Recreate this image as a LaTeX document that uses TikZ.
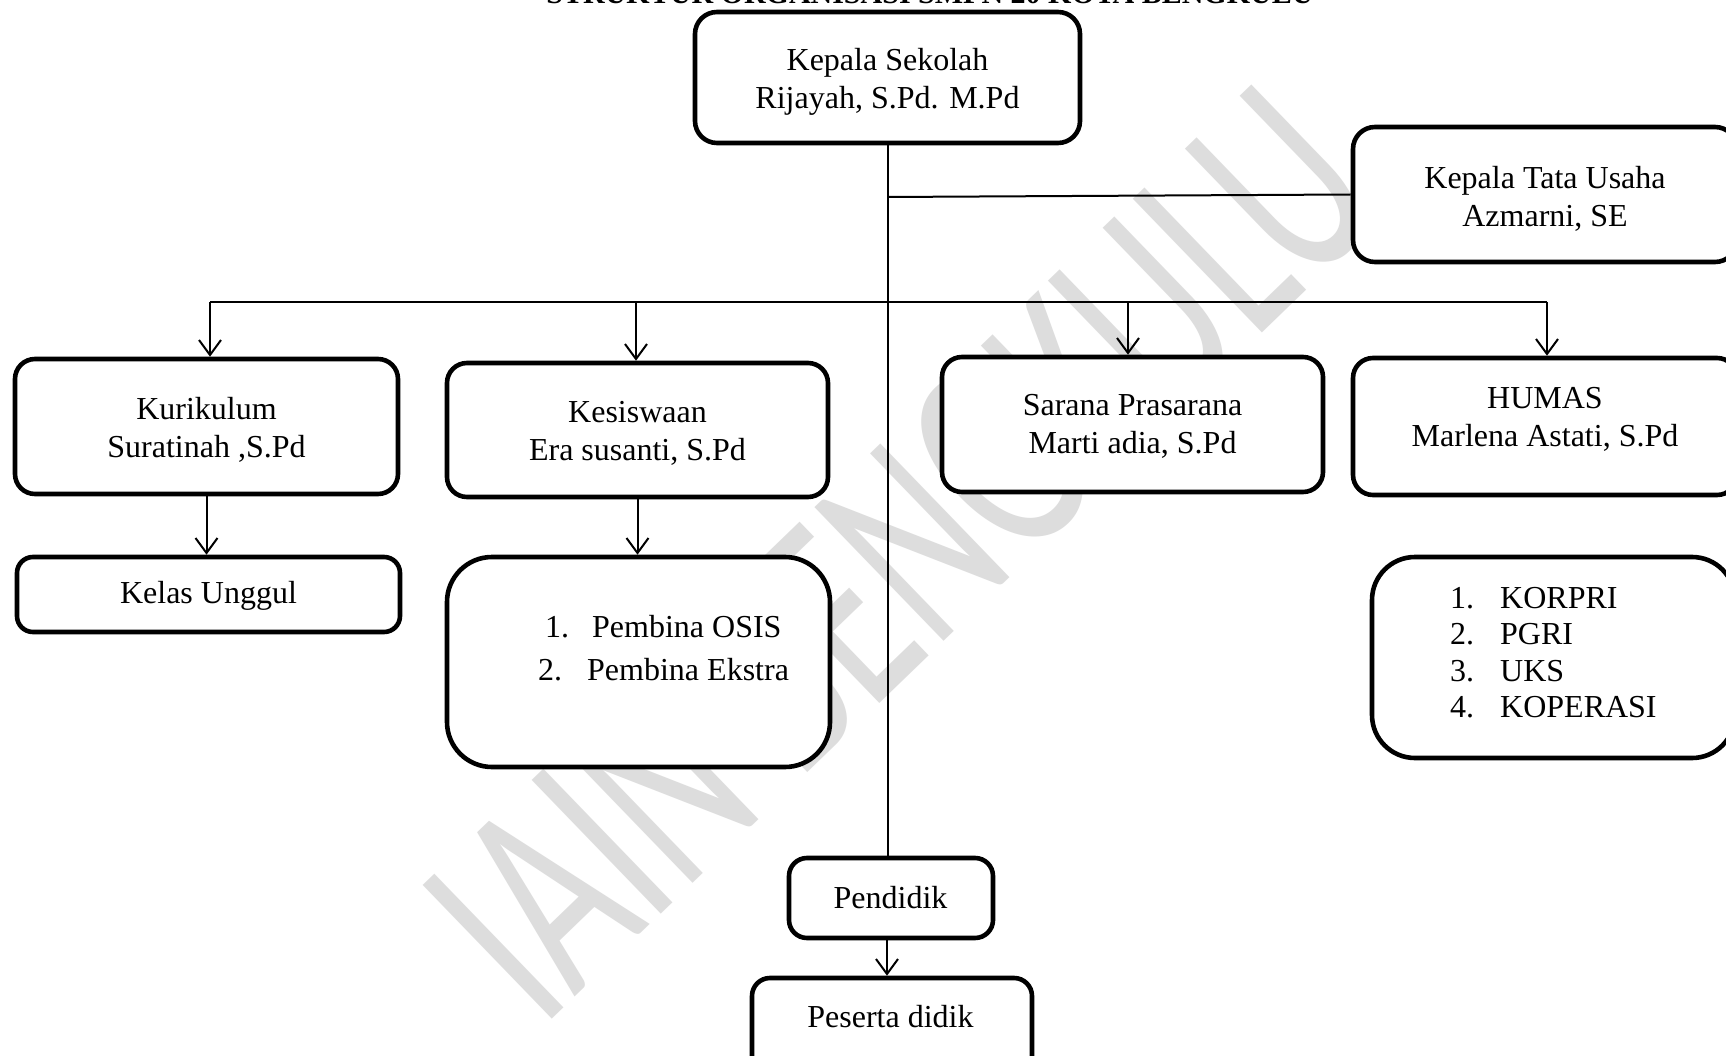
\documentclass[tikz,border=0pt]{standalone}
\usepackage{fontspec}
\setmainfont{Liberation Serif}
\newfontfamily\wmfont{Carlito}
\usetikzlibrary{arrows.meta}
\definecolor{wm}{RGB}{221,221,221}
\tikzset{
  orgbox/.style={draw, line width=4.6pt, fill=white, inner sep=0pt, rounded corners=#1},
  orgbox/.default=20pt,
  conn/.style={line width=2pt},
  arr/.style={line width=2pt, -{Straight Barb[length=15pt,width=22pt]}},
  lbl/.style={inner sep=0pt, align=center},
}
\begin{document}
\begin{tikzpicture}[x=1pt, y=-1pt, font=\fontsize{32}{38}\selectfont]
\useasboundingbox (0,0) rectangle (1726,1056);
\fill[white] (0,0) rectangle (1726,1056);
\clip (0,0) rectangle (1726,1056);

% watermark
\node[inner sep=0pt, text=wm] (wmark) at (901,553)
  {\rotatebox{44}{\resizebox{1180pt}{188pt}{\wmfont IAIN BENGKULU}}};

% title (cut off at top edge)
\node[inner sep=0pt, anchor=base, font=\fontsize{30}{36}\selectfont\bfseries] (title) at (930,4)
  {STRUKTUR ORGANISASI SMPN 20 KOTA BENGKULU};

% connectors
\coordinate (spine) at (887,0);
\coordinate (ktuJ) at (887,197);
\coordinate (busL) at (210,302);
\coordinate (busKes) at (636,302);
\coordinate (busSar) at (1128,302);
\coordinate (busR) at (1547,302);

% boxes
\node[orgbox=22pt, minimum width=385pt, minimum height=131pt] (ks) at (887.5,77.5) {};
\node[orgbox=22pt, minimum width=384pt, minimum height=135pt] (ktu) at (1545,194.5) {};
\node[orgbox=20pt, minimum width=383pt, minimum height=135pt] (kur) at (206.5,426.5) {};
\node[orgbox=20pt, minimum width=381pt, minimum height=134pt] (kes) at (637.5,430) {};
\node[orgbox=20pt, minimum width=381pt, minimum height=135pt] (sar) at (1132.5,424.5) {};
\node[orgbox=20pt, minimum width=384pt, minimum height=137pt] (hum) at (1545,426.5) {};
\node[orgbox=16pt, minimum width=383pt, minimum height=75pt] (kelas) at (208.5,594.5) {};
\node[orgbox=45pt, minimum width=383pt, minimum height=210pt] (pemb) at (638.5,662) {};
\node[orgbox=43pt, minimum width=363pt, minimum height=201pt] (humlist) at (1553.5,657.5) {};
\node[orgbox=18pt, minimum width=204pt, minimum height=80pt] (pend) at (891,898) {};
\node[orgbox=18pt, minimum width=280pt, minimum height=112pt] (pes) at (892,1034) {};

% texts
\node[lbl] (kst) at (887.5,81.4) {Kepala Sekolah\\Rijayah, S.Pd. M.Pd};
\node[lbl] (ktut) at (1545,198.4) {Kepala Tata Usaha\\Azmarni, SE};
\node[lbl] (kurt) at (206.5,429.4) {Kurikulum\\Suratinah ,S.Pd};
\node[lbl] (kest) at (637.5,433.4) {Kesiswaan\\Era susanti, S.Pd};
\node[lbl] (sart) at (1132.5,426.4) {Sarana Prasarana\\Marti adia, S.Pd};
\node[lbl] (humt) at (1545,419.4) {HUMAS\\Marlena Astati, S.Pd};
\node[lbl] (kelast) at (208.5,595.4) {\strut Kelas Unggul};
\node[lbl] (pendt) at (890.5,900.4) {\strut Pendidik};
\node[lbl] (pest) at (890.5,1019.4) {\strut Peserta didik};
\node[inner sep=0pt, anchor=west] (pembt) at (538,649.9)
  {\def\arraystretch{1.1316}\begin{tabular}{@{}l@{}}
   \hspace*{7pt}1.\hspace{23pt}Pembina OSIS\\
   2.\hspace{25pt}Pembina Ekstra
   \end{tabular}};
\node[inner sep=0pt, anchor=west] (humlt) at (1450,655.45)
  {\def\arraystretch{0.9605}\begin{tabular}{@{}l@{}}
   1.\hspace{26pt}KORPRI\\
   2.\hspace{26pt}PGRI\\
   3.\hspace{26pt}UKS\\
   4.\hspace{26pt}KOPERASI
   \end{tabular}};

% lines
\draw[conn] (ks.south) -- (ks.south |- pend.north);
\draw[conn] (ktuJ) -- (ktu.west);
\draw[conn] (busL) -- (busR);
\draw[arr] (busL) -- (busL |- kur.north);
\draw[arr] (busKes) -- (busKes |- kes.north);
\draw[arr] (busSar) -- (busSar |- sar.north);
\draw[arr] (busR) -- (busR |- hum.north);
\draw[arr] (kur.south) -- (kur.south |- kelas.north);
\draw[arr] (kes.south) -- (kes.south |- pemb.north);
\draw[arr] (spine |- pend.south) -- (spine |- pes.north);
\end{tikzpicture}
\end{document}
